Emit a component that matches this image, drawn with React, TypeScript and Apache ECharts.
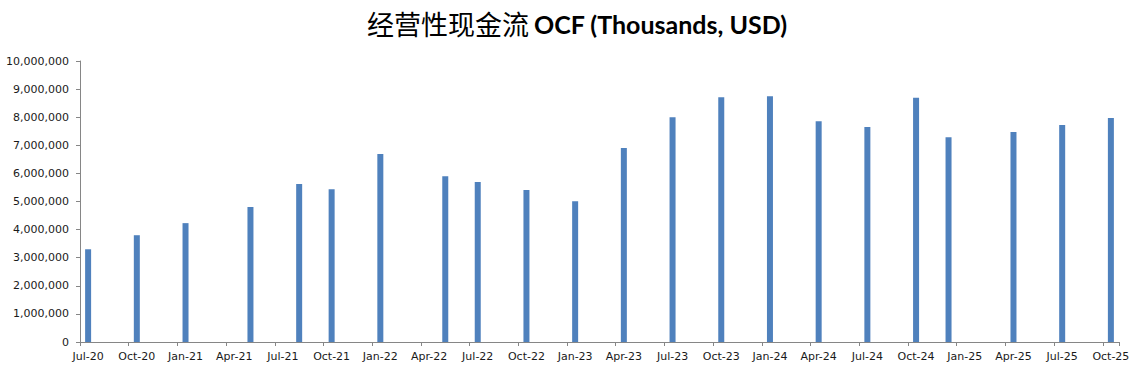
import React, { useEffect, useRef } from "react";
import * as echarts from "echarts";

const titleCn = "经营性现金流";
const titleEn = "OCF (Thousands, USD)";

// Monthly time axis: first and last month shown
const axisStart = { year: 2020, month: 7 };
const axisEnd = { year: 2025, month: 10 };

// Reporting months that carry a bar
const barMonths = [
  "Jul-20", "Oct-20", "Jan-21", "May-21", "Aug-21", "Oct-21", "Jan-22", "May-22",
  "Jul-22", "Oct-22", "Jan-23", "Apr-23", "Jul-23", "Oct-23", "Jan-24", "Apr-24",
  "Jul-24", "Oct-24", "Dec-24", "Apr-25", "Jul-25", "Oct-25",
];

// Operating cash flow values (thousands USD)
const ocfValues = [
  3300000, 3800000, 4230000, 4800000, 5620000, 5440000, 6690000, 5900000,
  5690000, 5410000, 5010000, 6900000, 8000000, 8710000, 8750000, 7860000,
  7650000, 8690000, 7290000, 7470000, 7720000, 7970000,
];

const monthNames = ["Jan", "Feb", "Mar", "Apr", "May", "Jun", "Jul", "Aug", "Sep", "Oct", "Nov", "Dec"];

function buildMonths(): string[] {
  const out: string[] = [];
  let y = axisStart.year;
  let m = axisStart.month;
  while (y < axisEnd.year || (y === axisEnd.year && m <= axisEnd.month)) {
    out.push(monthNames[m - 1] + "-" + String(y % 100).padStart(2, "0"));
    m++;
    if (m > 12) { m = 1; y++; }
  }
  return out;
}

export default function App() {
  const ref = useRef<HTMLDivElement>(null);
  useEffect(() => {
    document.body.style.margin = "0";
    if (!ref.current) return;
    const chart = echarts.init(ref.current, null, { renderer: "svg" });
    const months = buildMonths();
    const data = months.map((mm) => {
      const i = barMonths.indexOf(mm);
      return i >= 0 ? ocfValues[i] : null;
    });
    const axisColor = "#868686";
    const labelFont = "DejaVu Sans";
    chart.setOption({
      animation: false,
      backgroundColor: "#ffffff",
      title: {
        left: 362,
        top: 5,
        text: "{a|" + titleCn + "} {b|" + titleEn + "}",
        textStyle: {
          rich: {
            a: { fontFamily: "Noto Sans CJK SC", fontSize: 27, fontWeight: "normal", color: "#000" },
            b: { fontFamily: "Lato", fontSize: 25, fontWeight: "bold", color: "#000" },
          },
        },
      },
      grid: { left: 80, right: 28, top: 61, bottom: 33, containLabel: false },
      xAxis: {
        type: "category",
        data: months,
        boundaryGap: true,
        axisLine: { lineStyle: { color: axisColor, width: 1 } },
        axisTick: { show: true, interval: 2, alignWithLabel: false, length: 4, lineStyle: { color: axisColor } },
        axisLabel: {
          interval: 2,
          margin: 9,
          fontFamily: labelFont,
          fontSize: 11,
          color: "#1a1a1a",
        },
        splitLine: { show: false },
      },
      yAxis: {
        type: "value",
        min: 0,
        max: 10000000,
        interval: 1000000,
        axisLine: { show: true, lineStyle: { color: axisColor, width: 1 } },
        axisTick: { show: true, length: 4, lineStyle: { color: axisColor } },
        axisLabel: {
          margin: 11,
          fontFamily: labelFont,
          fontSize: 11,
          color: "#1a1a1a",
          formatter: (v: number) => v.toLocaleString("en-US"),
        },
        splitLine: { show: false },
      },
      series: [
        {
          type: "bar",
          data,
          barWidth: 6,
          itemStyle: { color: "#4F81BD" },
        },
      ],
    });
    return () => chart.dispose();
  }, []);
  return <div ref={ref} style={{ width: 1147, height: 375 }} />;
}
